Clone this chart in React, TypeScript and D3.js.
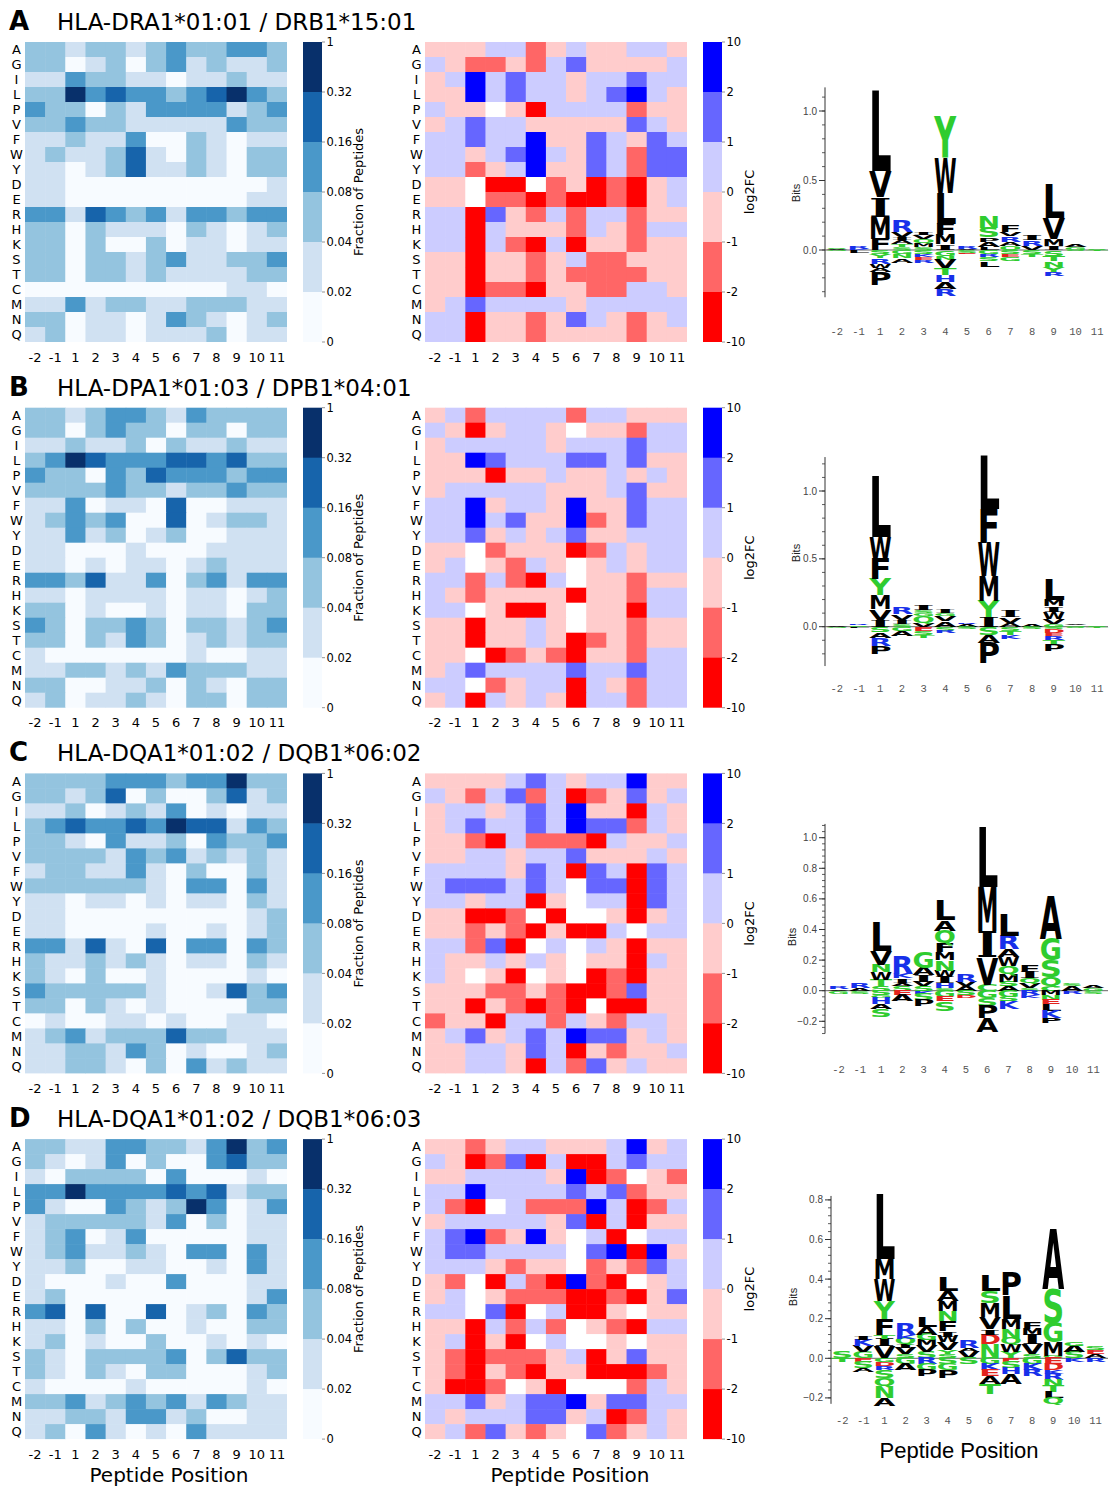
import React, { useEffect, useRef } from "react";
import * as d3 from "d3";

const W = 1109;
const H = 1487;

const aminoAcids = ["A", "G", "I", "L", "P", "V", "F", "W", "Y", "D", "E", "R", "H", "K", "S", "T", "C", "M", "N", "Q"];
const positions = ["-2", "-1", "1", "2", "3", "4", "5", "6", "7", "8", "9", "10", "11"];
const panelLetters = ["A", "B", "C", "D"];
const titles = [
  "HLA-DRA1*01:01 / DRB1*15:01",
  "HLA-DPA1*01:03 / DPB1*04:01",
  "HLA-DQA1*01:02 / DQB1*06:02",
  "HLA-DQA1*01:02 / DQB1*06:03",
];

// colorbar tick labels (top -> bottom)
const fracTicks = ["1", "0.32", "0.16", "0.08", "0.04", "0.02", "0"];
const fcTicks = ["10", "2", "1", "0", "-1", "-2", "-10"];
// representative value of each colour bin (digit in the rows below), "x" = missing
const fracBins = [0.01, 0.03, 0.06, 0.12, 0.24, 0.5];
const fcBins = [-3, -1.5, -0.5, 0.5, 1.5, 3];

// fraction of peptides, one string per amino acid, one digit per position
const fracA = [
  "2212212322332", "2201202312112", "1132211011211", "2253433234532", "3220213333123",
  "2232211111322", "1121130021011", "1211241021022", "1101241121022", "1100000000001",
  "1100000000011", "3314323133233", "2202111021012", "2202002011011", "2202212311223",
  "2202212111122", "0000000000110", "1131221122211", "2201101321012", "1201101112011",
];
const fcA = [
  "2223312322332", "3211213422223", "2353433233433", "2253433234532", "322x203333122",
  "2343322222432", "3343352243243", "3323453243144", "3312352243144", "22x00x1201023",
  "22x1101001023", "3304213133122", "3303222132133", "3303103022122", "2202212311222",
  "2202212111122", "2201102211332", "2343333233333", "3302212432123", "3302212222122",
];
const fracB = [
  "2212332132222", "2202322022022", "1121120211211", "2354333443422", "3220324333233",
  "2222322122322", "1130110400111", "1232300401221", "1131201200111", "1100010001111",
  "1101011012111", "3324113023133", "1101111011012", "2201001011022", "3202232022123",
  "2202132012122", "1000000010011", "1122121322211", "2200112021022", "1201121022022",
];
const fcB = [
  "2313333133222", "3202332x22133", "2333332333433", "2254333443422", "2220223223232",
  "2333332223422", "3352332522433", "3353422512433", "3342323422333", "22x1222013233",
  "23x2132x23233", "3313103x22122", "3212222022133", "33x2002x22033", "2202232x22122",
  "2202232012122", "22x0121022133", "2343333433433", "33x1233032133", "2303232033133",
];
const fracC = [
  "2222333233522", "2212402002412", "1120121301011", "2343343544132", "2210311203223",
  "2222132312121", "1221131020021", "2222221033031", "1101101011021", "1100000000012",
  "1100001001012", "3314104033032", "2112121011021", "2102001000010", "3222221001423",
  "2202101000022", "0100110100110", "1231222422111", "1122132010012", "1122102031211",
];
const fcC = [
  "2222343233522", "3213413012423", "2332343522032", "2343343544132", "2210311103223",
  "2233233422232", "3333243043043", "3444343x44043", "3323302x33043", "22001x0xx2023",
  "2212102003x33", "33140x3x32022", "3223232x22032", "32x20x2x01022", "2221121001422",
  "22021010x0022", "1220331321332", "2342343544232", "2233243021223", "2233203142322",
];
const fracD = [
  "2211332213523", "2101302003422", "1022220300010", "3353333434122", "3100321253013",
  "1222221302011", "1230130000011", "1231121033031", "1120011001031", "1000100300011",
  "1200000000013", "3404004012032", "1102020010022", "1201002001010", "2102222302422",
  "2102102200012", "1000010000010", "2231232313211", "1122133120011", "1203101031111",
];
const fcD = [
  "2212332223523", "3201403003433", "2233332501x21", "3353333434122", "310x311153013",
  "2333332403022", "3451252x30x33", "3443333x45052", "3332122x12143", "21x0310510x23",
  "23x2111001024", "33x40x3002x22", "2203131x21033", "23020x3xx2x22", "2101112302422",
  "2102102200012", "2001x20xxx132", "3342344524433", "3233344230132", "2314212x41232",
];

// sequence logos: per position [above zero (bottom->top), below zero (top->bottom)], bits
type Letter = [string, number];
type Column = [Letter[], Letter[]];

const logoA: Column[] = [
  [[["A", 0.01], ["S", 0.01]], [["G", 0.01]]],
  [[["K", 0.01], ["R", 0.02]], [["L", 0.02]]],
  [[["F", 0.08], ["M", 0.16], ["I", 0.14], ["V", 0.19], ["L", 0.58]], [["S", 0.03], ["Y", 0.03], ["R", 0.04], ["W", 0.03], ["A", 0.03], ["P", 0.09]]],
  [[["S", 0.02], ["T", 0.02], ["A", 0.03], ["I", 0.02], ["V", 0.04], ["R", 0.08]], [["G", 0.03], ["N", 0.03], ["A", 0.03]]],
  [[["S", 0.02], ["M", 0.03], ["Q", 0.03], ["V", 0.03], ["I", 0.02]], [["S", 0.03], ["K", 0.02], ["E", 0.02], ["R", 0.02]]],
  [[["I", 0.04], ["M", 0.07], ["F", 0.08], ["L", 0.22], ["W", 0.25], ["Y", 0.3]], [["G", 0.04], ["N", 0.03], ["V", 0.06], ["T", 0.05], ["H", 0.05], ["A", 0.05], ["R", 0.05]]],
  [[["A", 0.01], ["R", 0.02]], [["S", 0.02], ["E", 0.01]]],
  [[["L", 0.02], ["A", 0.04], ["P", 0.03], ["S", 0.07], ["N", 0.08]], [["G", 0.03], ["R", 0.02], ["S", 0.03], ["L", 0.04]]],
  [[["Q", 0.03], ["A", 0.03], ["R", 0.04], ["V", 0.03], ["F", 0.05]], [["S", 0.03], ["E", 0.02], ["G", 0.03]]],
  [[["V", 0.03], ["R", 0.04], ["I", 0.04]], [["S", 0.03], ["T", 0.02]]],
  [[["I", 0.03], ["M", 0.05], ["V", 0.15], ["L", 0.24]], [["S", 0.04], ["T", 0.04], ["N", 0.04], ["Y", 0.04], ["R", 0.03]]],
  [[["G", 0.02], ["A", 0.02]], [["S", 0.01]]],
  [[["S", 0.01]], [["T", 0.01]]],
];
const logoB: Column[] = [
  [[["A", 0.01]], [["G", 0.01]]],
  [[["S", 0.01], ["R", 0.01]], [["L", 0.01]]],
  [[["I", 0.05], ["V", 0.08], ["M", 0.1], ["Y", 0.12], ["F", 0.15], ["W", 0.16], ["L", 0.45]], [["S", 0.04], ["A", 0.04], ["R", 0.06], ["P", 0.06]]],
  [[["S", 0.02], ["I", 0.03], ["V", 0.04], ["R", 0.05]], [["G", 0.03], ["A", 0.04]]],
  [[["V", 0.03], ["Q", 0.05], ["G", 0.02], ["S", 0.02], ["I", 0.04]], [["E", 0.03], ["S", 0.03], ["T", 0.02]]],
  [[["A", 0.04], ["V", 0.04], ["G", 0.02], ["I", 0.03]], [["S", 0.03], ["R", 0.02]]],
  [[["A", 0.02], ["R", 0.01]], [["S", 0.02]]],
  [[["I", 0.07], ["Y", 0.12], ["M", 0.18], ["W", 0.25], ["F", 0.25], ["L", 0.39]], [["S", 0.06], ["A", 0.06], ["P", 0.15]]],
  [[["A", 0.03], ["V", 0.04], ["I", 0.05]], [["S", 0.03], ["T", 0.03], ["K", 0.03]]],
  [[["A", 0.02]], [["S", 0.02]]],
  [[["G", 0.02], ["V", 0.04], ["W", 0.05], ["I", 0.04], ["M", 0.05], ["L", 0.15]], [["S", 0.02], ["D", 0.03], ["E", 0.02], ["R", 0.03], ["T", 0.03], ["P", 0.05]]],
  [[["G", 0.01], ["A", 0.01]], [["S", 0.01]]],
  [[["S", 0.01]], [["T", 0.01]]],
];
const logoC: Column[] = [
  [[["A", 0.01], ["R", 0.02]], [["G", 0.02]]],
  [[["A", 0.02], ["R", 0.03]], [["S", 0.02]]],
  [[["S", 0.03], ["T", 0.04], ["W", 0.05], ["N", 0.05], ["V", 0.09], ["L", 0.19]], [["S", 0.03], ["G", 0.02], ["H", 0.04], ["A", 0.03], ["S", 0.05]]],
  [[["S", 0.03], ["A", 0.02], ["I", 0.03], ["K", 0.03], ["R", 0.12]], [["E", 0.03], ["A", 0.04]]],
  [[["S", 0.03], ["V", 0.03], ["I", 0.04], ["A", 0.05], ["G", 0.1]], [["K", 0.02], ["S", 0.04], ["P", 0.04]]],
  [[["S", 0.02], ["H", 0.03], ["I", 0.04], ["W", 0.04], ["N", 0.07], ["M", 0.05], ["F", 0.06], ["Q", 0.08], ["A", 0.07], ["L", 0.13]], [["G", 0.04], ["E", 0.03], ["S", 0.06]]],
  [[["A", 0.03], ["V", 0.03], ["R", 0.05]], [["S", 0.03], ["D", 0.02]]],
  [[["C", 0.04], ["V", 0.18], ["I", 0.17], ["M", 0.29], ["L", 0.39]], [["G", 0.05], ["S", 0.05], ["P", 0.08], ["A", 0.09]]],
  [[["A", 0.03], ["S", 0.03], ["M", 0.05], ["Q", 0.05], ["W", 0.06], ["A", 0.05], ["R", 0.09], ["L", 0.14]], [["G", 0.04], ["S", 0.03], ["K", 0.05]]],
  [[["S", 0.02], ["V", 0.03], ["Q", 0.03], ["I", 0.04], ["F", 0.04]], [["R", 0.03], ["K", 0.02]]],
  [[["C", 0.03], ["Q", 0.06], ["S", 0.11], ["G", 0.14], ["A", 0.28]], [["M", 0.03], ["N", 0.03], ["E", 0.03], ["L", 0.04], ["K", 0.05], ["P", 0.03]]],
  [[["A", 0.03], ["S", 0.02]], [["R", 0.02]]],
  [[["G", 0.02], ["A", 0.02]], [["S", 0.02]]],
];
const logoD: Column[] = [
  [[["S", 0.03]], [["T", 0.02]]],
  [[["G", 0.03], ["V", 0.03], ["K", 0.03], ["I", 0.02]], [["E", 0.02], ["S", 0.03], ["A", 0.02]]],
  [[["V", 0.06], ["I", 0.04], ["T", 0.02], ["F", 0.08], ["Y", 0.09], ["W", 0.11], ["M", 0.1], ["L", 0.33]], [["G", 0.02], ["D", 0.02], ["R", 0.02], ["S", 0.04], ["Q", 0.04], ["N", 0.06], ["A", 0.04]]],
  [[["S", 0.02], ["V", 0.03], ["I", 0.02], ["Q", 0.03], ["K", 0.02], ["R", 0.06]], [["G", 0.03], ["A", 0.03]]],
  [[["S", 0.03], ["V", 0.03], ["M", 0.03], ["G", 0.03], ["A", 0.04], ["L", 0.05]], [["R", 0.03], ["G", 0.03], ["P", 0.03]]],
  [[["S", 0.02], ["Y", 0.02], ["V", 0.04], ["W", 0.03], ["I", 0.03], ["F", 0.05], ["N", 0.05], ["M", 0.05], ["A", 0.05], ["L", 0.07]], [["S", 0.03], ["G", 0.03], ["P", 0.04]]],
  [[["V", 0.03], ["A", 0.02], ["R", 0.04]], [["S", 0.03]]],
  [[["N", 0.07], ["D", 0.05], ["I", 0.03], ["V", 0.06], ["M", 0.07], ["S", 0.06], ["L", 0.08]], [["G", 0.03], ["K", 0.03], ["E", 0.03], ["A", 0.04], ["T", 0.05]]],
  [[["Y", 0.03], ["W", 0.04], ["Q", 0.03], ["N", 0.05], ["M", 0.05], ["L", 0.12], ["P", 0.12]], [["E", 0.02], ["S", 0.03], ["H", 0.03], ["A", 0.05]]],
  [[["S", 0.02], ["V", 0.05], ["I", 0.05], ["M", 0.03], ["F", 0.03]], [["G", 0.03], ["K", 0.03], ["R", 0.03]]],
  [[["G", 0.01], ["M", 0.07], ["G", 0.1], ["S", 0.17], ["A", 0.3]], [["E", 0.03], ["D", 0.03], ["K", 0.02], ["R", 0.03], ["N", 0.03], ["T", 0.03], ["L", 0.03], ["Q", 0.03]]],
  [[["S", 0.03], ["A", 0.03], ["G", 0.02]], [["K", 0.02]]],
  [[["A", 0.02], ["E", 0.02], ["S", 0.02]], [["R", 0.02]]],
];

const fracPanels = [fracA, fracB, fracC, fracD];
const fcPanels = [fcA, fcB, fcC, fcD];
const logoPanels = [logoA, logoB, logoC, logoD];

const logoLayout = [
  { xa: 826, xb: 1108, y0: 250, ppb: 139, lo: -0.34, hi: 1.17, ticks: [0, 0.5, 1], minor: 0.1, ax: 825, labelY: 335, bitsX: 796, bitsY: 193 },
  { xa: 826, xb: 1108, y0: 626.7, ppb: 135.7, lo: -0.29, hi: 1.25, ticks: [0, 0.5, 1], minor: 0.1, ax: 825, labelY: 692, bitsX: 796, bitsY: 553 },
  { xa: 828, xb: 1104, y0: 990.7, ppb: 153, lo: -0.28, hi: 1.09, ticks: [-0.2, 0, 0.2, 0.4, 0.6, 0.8, 1], minor: 0.04, ax: 825, labelY: 1073, bitsX: 792, bitsY: 937 },
  { xa: 831.7, xb: 1106, y0: 1358.3, ppb: 198, lo: -0.23, hi: 0.82, ticks: [-0.2, 0, 0.2, 0.4, 0.6, 0.8], minor: 0.04, ax: 831, labelY: 1424, bitsX: 793, bitsY: 1297 },
];

const sans = "DejaVu Sans, sans-serif";
const fracColor = d3
  .scaleThreshold<number, string>()
  .domain([0.02, 0.04, 0.08, 0.16, 0.32])
  .range(["#f7fbff", "#d0e1f2", "#94c4df", "#4a98c9", "#1764ab", "#08306b"]);
const fcColor = d3
  .scaleThreshold<number, string>()
  .domain([-2, -1, 0, 1, 2])
  .range(["#ff0000", "#ff6666", "#ffcccc", "#ccccff", "#6666ff", "#0000ff"]);

const letterColor = (aa: string) =>
  "DE".includes(aa) ? "#e3231c" : "KRH".includes(aa) ? "#1730ea" : "GSTYCNQ".includes(aa) ? "#2fcc2f" : "#000";

export default function App() {
  const ref = useRef<SVGSVGElement>(null);

  useEffect(() => {
    const svg = d3.select(ref.current);
    svg.selectAll("*").remove();
    svg.append("rect").attr("width", W).attr("height", H).attr("fill", "#fff");

    const heatmap = (rows, bins, color, x0, top, ticks, label, labelX) => {
      const g = svg.append("g");
      const x = d3.scaleBand().domain(positions).range([x0, x0 + 262]);
      const y = d3.scaleBand().domain(aminoAcids).range([top, top + 300]);
      const cells = rows.flatMap((r, i) =>
        r.split("").map((c, j) => ({ aa: aminoAcids[i], pos: positions[j], v: c === "x" ? NaN : bins[+c] }))
      );
      g.append("g")
        .selectAll("rect")
        .data(cells)
        .join("rect")
        .attr("x", d => x(d.pos))
        .attr("y", d => y(d.aa))
        .attr("width", d => x.bandwidth() + (d.pos === "11" ? 0 : 0.5))
        .attr("height", d => y.bandwidth() + (d.aa === "Q" ? 0 : 0.5))
        .attr("fill", d => (isNaN(d.v) ? "#fff" : color(d.v)));

      g.append("g")
        .attr("font-family", sans)
        .attr("font-size", 13)
        .attr("text-anchor", "middle")
        .selectAll("text")
        .data(aminoAcids)
        .join("text")
        .attr("x", x0 - 8.5)
        .attr("y", d => y(d) + y.bandwidth() / 2)
        .attr("dy", "0.36em")
        .text(d => d);

      g.append("g")
        .attr("font-family", sans)
        .attr("font-size", 13)
        .attr("text-anchor", "middle")
        .selectAll("text")
        .data(positions)
        .join("text")
        .attr("x", d => x(d) + x.bandwidth() / 2)
        .attr("y", top + 319.5)
        .text(d => d);

      // colorbar
      const cbx = x0 + 278;
      const cy = d3.scaleLinear().domain([0, 6]).range([top, top + 300]);
      g.append("g")
        .selectAll("rect")
        .data(d3.range(6))
        .join("rect")
        .attr("x", cbx)
        .attr("y", i => cy(i))
        .attr("width", 19)
        .attr("height", i => cy(i + 1) - cy(i) + (i < 5 ? 0.5 : 0))
        .attr("fill", i => color(bins[5 - i]));
      const tg = g.append("g").attr("font-family", sans).attr("font-size", 11.5);
      ticks.forEach((t, i) => {
        tg.append("line")
          .attr("x1", cbx + 19)
          .attr("x2", cbx + 22)
          .attr("y1", cy(i))
          .attr("y2", cy(i))
          .attr("stroke", "#666")
          .attr("stroke-width", 0.7);
        tg.append("text").attr("x", cbx + 23.5).attr("y", cy(i)).attr("dy", "0.36em").text(t);
      });
      g.append("text")
        .attr("font-family", sans)
        .attr("font-size", 13)
        .attr("text-anchor", "middle")
        .attr("transform", `translate(${labelX},${top + 150}) rotate(-90)`)
        .attr("dy", "0.36em")
        .text(label);
    };

    const widths: Record<string, { w: number; x: number }> = {};
    const glyph = (g, aa, left, w, bottom, h) => {
      if (h < 0.25) return;
      const serif = aa === "I";
      const t = g
        .append("text")
        .attr("font-family", serif ? "DejaVu Serif, serif" : sans)
        .attr("font-weight", "bold")
        .attr("font-size", 100)
        .attr("fill", letterColor(aa))
        .text(aa);
      let m = widths[aa];
      if (!m) {
        const bb = (t.node() as SVGTextElement).getBBox();
        m = { w: bb.width || 70, x: bb.x || 0 };
        widths[aa] = m;
      }
      // stretch the advance a bit wider so the ink (without side bearings) fills the column
      const ww = w * 1.12;
      const sx = ww / m.w;
      const sy = h / 72.9;
      t.attr("transform", `translate(${left - (ww - w) / 2 - m.x * sx},${bottom}) scale(${sx},${sy})`);
    };

    const logo = (cols: Column[], cfg) => {
      const g = svg.append("g");
      const x = d3.scaleBand().domain(positions).range([cfg.xa, cfg.xb]);
      const y = d3.scaleLinear().domain([0, 1]).range([cfg.y0, cfg.y0 - cfg.ppb]);

      g.append("line")
        .attr("x1", cfg.ax)
        .attr("x2", 1108)
        .attr("y1", y(0))
        .attr("y2", y(0))
        .attr("stroke", "#555")
        .attr("stroke-width", 0.9);

      const lw = x.bandwidth() * 0.93;
      const lg = g.append("g");
      cols.forEach(([up, down], j) => {
        const left = x(positions[j]) + (x.bandwidth() - lw) / 2;
        let acc = 0;
        up.forEach(([aa, b]) => {
          glyph(lg, aa, left, lw, y(acc), y(acc) - y(acc + b));
          acc += b;
        });
        acc = 0;
        down.forEach(([aa, b]) => {
          glyph(lg, aa, left, lw, y(acc - b), y(acc - b) - y(acc));
          acc -= b;
        });
      });

      // y axis
      const ag = g.append("g").attr("transform", `translate(${cfg.ax},0)`);
      ag.append("line")
        .attr("y1", y(cfg.lo))
        .attr("y2", y(cfg.hi))
        .attr("stroke", "#333")
        .attr("stroke-width", 1);
      const minors = d3.range(Math.ceil(cfg.lo / cfg.minor), Math.floor(cfg.hi / cfg.minor) + 1).map(k => k * cfg.minor);
      ag.selectAll("line.minor")
        .data(minors)
        .join("line")
        .attr("class", "minor")
        .attr("x1", -3)
        .attr("x2", 0)
        .attr("y1", d => y(d))
        .attr("y2", d => y(d))
        .attr("stroke", "#333")
        .attr("stroke-width", 0.8);
      ag.selectAll("line.major")
        .data(cfg.ticks)
        .join("line")
        .attr("class", "major")
        .attr("x1", -6)
        .attr("x2", 0)
        .attr("y1", d => y(d))
        .attr("y2", d => y(d))
        .attr("stroke", "#333")
        .attr("stroke-width", 1);
      ag.selectAll("text")
        .data(cfg.ticks)
        .join("text")
        .attr("x", -8)
        .attr("y", d => y(d))
        .attr("dy", "0.35em")
        .attr("text-anchor", "end")
        .attr("font-family", "Liberation Sans, Arial, sans-serif")
        .attr("font-size", 10)
        .attr("fill", "#444")
        .text(d => d3.format(".1f")(d));

      g.append("text")
        .attr("font-family", "Liberation Sans, Arial, sans-serif")
        .attr("font-size", 11)
        .attr("fill", "#222")
        .attr("text-anchor", "middle")
        .attr("transform", `translate(${cfg.bitsX},${cfg.bitsY}) rotate(-90)`)
        .attr("dy", "0.35em")
        .text("Bits");

      g.append("g")
        .attr("font-family", "Liberation Mono, DejaVu Sans Mono, monospace")
        .attr("font-size", 10.5)
        .attr("fill", "#555")
        .attr("text-anchor", "middle")
        .selectAll("text")
        .data(positions)
        .join("text")
        .attr("x", d => x(d) + x.bandwidth() / 2)
        .attr("y", cfg.labelY)
        .text(d => d);
    };

    panelLetters.forEach((letter, i) => {
      const top = 42 + i * 365.7;
      svg.append("text")
        .attr("x", 9)
        .attr("y", top - 12)
        .attr("font-family", sans)
        .attr("font-weight", "bold")
        .attr("font-size", 26)
        .text(letter);
      svg.append("text")
        .attr("x", 57)
        .attr("y", top - 12)
        .attr("font-family", sans)
        .attr("font-size", 23)
        .text(titles[i]);

      heatmap(fracPanels[i], fracBins, fracColor, 25, top, fracTicks, "Fraction of Peptides", 358);
      heatmap(fcPanels[i], fcBins, fcColor, 425, top, fcTicks, "log2FC", 749);
      logo(logoPanels[i], logoLayout[i]);
    });

    const bottom = svg.append("g").attr("text-anchor", "middle");
    bottom.append("text").attr("x", 169).attr("y", 1482).attr("font-family", sans).attr("font-size", 20).text("Peptide Position");
    bottom.append("text").attr("x", 570).attr("y", 1482).attr("font-family", sans).attr("font-size", 20).text("Peptide Position");
    bottom
      .append("text")
      .attr("x", 959)
      .attr("y", 1458)
      .attr("font-family", "Liberation Sans, Arial, sans-serif")
      .attr("font-size", 22)
      .text("Peptide Position");
  }, []);

  return (
    <svg
      ref={ref}
      width={W}
      height={H}
      style={{ position: "absolute", left: 0, top: 0, display: "block" }}
    />
  );
}
